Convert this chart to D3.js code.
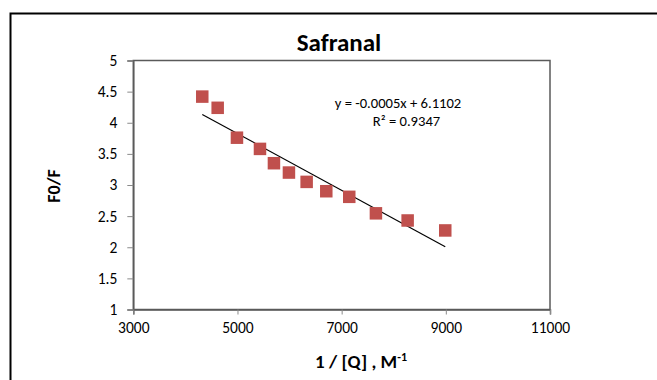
<!DOCTYPE html>
<html>
<head>
<meta charset="utf-8">
<script src="https://cdn.jsdelivr.net/npm/d3@7"></script>
<style>
  html, body { margin: 0; padding: 0; background: #fff; }
  svg { display: block; font-family: Carlito, Lato, "Open Sans", sans-serif; }
</style>
</head>
<body>
<svg id="chart" width="657" height="380"></svg>
<script>
const title = "Safranal";
const xLabel = "1 / [Q] , M";
const xLabelSup = "-1";
const yLabel = "F0/F";
const xValues = [4324, 4620, 4990, 5432, 5700, 5988, 6328, 6705, 7146, 7658, 8267, 8989];
const yValues = [4.42, 4.24, 3.76, 3.58, 3.35, 3.20, 3.05, 2.90, 2.81, 2.545, 2.43, 2.27];
const xTicks = [3000, 5000, 7000, 9000, 11000];
const yTicks = [1, 1.5, 2, 2.5, 3, 3.5, 4, 4.5, 5];
const equationLines = ["y = -0.0005x + 6.1102", "R\u00B2 = 0.9347"];

const svg = d3.select("#chart");

// outer chart border (clipped by window on right/bottom)
svg.append("rect").attr("x", 10.5).attr("y", 13.5).attr("width", 700).attr("height", 420)
  .attr("fill", "none").attr("stroke", "#000").attr("stroke-width", 2);

const x = d3.scaleLinear().domain([3000, 11000]).range([133.3, 550]);
const y = d3.scaleLinear().domain([1, 5]).range([309.5, 60.5]);

// plot area border
svg.append("rect").attr("x", x(3000)).attr("y", y(5))
  .attr("width", x(11000) - x(3000)).attr("height", y(1) - y(5))
  .attr("fill", "none").attr("stroke", "#5a5a5a").attr("stroke-width", 1.5);

const yAxis = svg.append("g").attr("transform", `translate(${x(3000)},0)`)
  .call(d3.axisLeft(y).tickValues(yTicks).tickSize(6).tickPadding(10).tickFormat(d3.format("")));
const xAxis = svg.append("g").attr("transform", `translate(0,${y(1)})`)
  .call(d3.axisBottom(x).tickValues(xTicks).tickSize(5).tickPadding(7).tickFormat(d3.format("")));
[yAxis, xAxis].forEach(g => {
  g.select(".domain").attr("stroke", "#5a5a5a").attr("stroke-width", 1.5);
  g.selectAll(".tick line").attr("stroke", "#8a8a8a");
  g.selectAll(".tick text").attr("fill", "#000").style("font-size", "15.5px")
    .style("font-family", "Carlito, Lato, 'Open Sans', sans-serif");
});

// regression trendline from data
const n = xValues.length;
const mx = d3.mean(xValues), my = d3.mean(yValues);
let sxy = 0, sxx = 0;
for (let i = 0; i < n; i++) { sxy += (xValues[i] - mx) * (yValues[i] - my); sxx += (xValues[i] - mx) ** 2; }
const slope = sxy / sxx, intercept = my - slope * mx;
const xmin = d3.min(xValues), xmax = d3.max(xValues);
svg.append("line")
  .attr("x1", x(xmin)).attr("y1", y(slope * xmin + intercept))
  .attr("x2", x(xmax)).attr("y2", y(slope * xmax + intercept))
  .attr("stroke", "#000").attr("stroke-width", 1.2);

// markers
const ms = 12.5;
svg.append("g").selectAll("rect").data(xValues.map((d, i) => [d, yValues[i]])).join("rect")
  .attr("x", d => x(d[0]) - ms / 2).attr("y", d => y(d[1]) - ms / 2)
  .attr("width", ms).attr("height", ms).attr("fill", "#C0504D");

// equation text
svg.append("text").attr("x", 398).attr("y", 108).attr("text-anchor", "middle")
  .style("font-size", "14.6px").text(equationLines[0]);
svg.append("text").attr("x", 406.5).attr("y", 126).attr("text-anchor", "middle")
  .style("font-size", "14.6px").text(equationLines[1]);

// title
svg.append("text").attr("x", 339).attr("y", 51).attr("text-anchor", "middle")
  .style("font-size", "25px").style("font-weight", "bold").text(title);

// y label
svg.append("text").attr("transform", "translate(60,186) rotate(-90)").attr("text-anchor", "middle")
  .style("font-size", "18px").style("font-weight", "bold").text(yLabel);

// x label
const xl = svg.append("text").attr("x", 361).attr("y", 368).attr("text-anchor", "middle")
  .style("font-size", "19px").style("font-weight", "bold");
xl.append("tspan").text(xLabel);
xl.append("tspan").attr("dy", -7).style("font-size", "12px").text(xLabelSup);
</script>
</body>
</html>
